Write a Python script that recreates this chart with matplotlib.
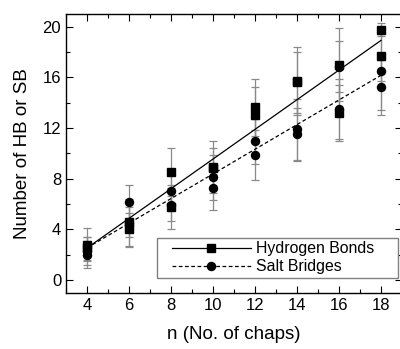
import numpy as np
import matplotlib
matplotlib.use("Agg")
import matplotlib.pyplot as plt
from matplotlib.ticker import MultipleLocator
from matplotlib.legend_handler import HandlerLine2D

plt.rcParams['font.family'] = ['Liberation Sans', 'DejaVu Sans']

# Data: two replicate measurements per n
n_vals = [4, 6, 8, 10, 12, 14, 16, 18]
hb_a = [2.8, 4.6, 8.5, 8.9, 13.65, 15.7, 17.0, 19.77]
hb_b = [2.5, 4.0, 5.75, 8.85, 13.0, 15.6, 13.2, 17.72]
hb_a_err = [1.3, 1.2, 1.9, 2.05, 2.25, 2.7, 2.9, 0.5]
hb_b_err = [0.9, 1.3, 1.75, 1.6, 2.2, 2.4, 2.2, 2.0]
sb_a = [2.3, 6.17, 7.0, 8.1, 10.95, 11.9, 16.85, 16.5]
sb_b = [2.0, 4.5, 5.95, 7.3, 9.87, 11.5, 13.5, 15.2]
sb_a_err = [1.1, 1.3, 1.5, 1.8, 1.8, 2.4, 2.0, 3.1]
sb_b_err = [1.05, 1.9, 1.3, 1.8, 1.95, 2.1, 2.4, 2.15]

x_ticks = [4, 6, 8, 10, 12, 14, 16, 18]
y_ticks = [0, 4, 8, 12, 16, 20]

fig = plt.figure(figsize=(4.0, 3.49), dpi=100)
ax = fig.add_axes([66/400, 1-292.7/349, 336/400, (292.7-14)/349])

x = np.array(n_vals, dtype=float)
ecol = '#8a8a8a'
for ys, es in [(hb_a, hb_a_err), (hb_b, hb_b_err), (sb_a, sb_a_err), (sb_b, sb_b_err)]:
    ax.errorbar(x, ys, yerr=es, fmt='none', ecolor=ecol, elinewidth=0.9,
                capsize=3, capthick=0.9, zorder=2)

# linear fits
xx = np.concatenate([x, x])
hb_all = np.concatenate([hb_a, hb_b])
sb_all = np.concatenate([sb_a, sb_b])
p_hb = np.polyfit(xx, hb_all, 1)
p_sb = np.polyfit(xx, sb_all, 1)
xl = np.array([x.min(), x.max()])
ax.plot(xl, np.polyval(p_hb, xl), '-', color='black', lw=0.9, zorder=3)
ax.plot(xl, np.polyval(p_sb, xl), '--', color='black', lw=0.9, dashes=(3, 2), zorder=3)

ms_sq, ms_ci = 5.3, 5.8
ax.plot(x, hb_a, 's', color='black', ms=ms_sq, zorder=4)
ax.plot(x, hb_b, 's', color='black', ms=ms_sq, zorder=4)
ax.plot(x, sb_a, 'o', color='black', ms=ms_ci, zorder=4)
ax.plot(x, sb_b, 'o', color='black', ms=ms_ci, zorder=4)

# legend proxies
h1, = ax.plot([], [], '-s', color='black', lw=0.9, ms=ms_sq)
h2, = ax.plot([], [], '--o', color='black', lw=0.9, ms=ms_ci, dashes=(3, 2))
xpad = 0.7
leg = ax.legend([h1, h2], ['Hydrogen Bonds', 'Salt Bridges'], loc='lower left',
                bbox_to_anchor=(0.271, 0.053, 0.717, 0.15), mode='expand',
                borderaxespad=0, fontsize=11.4,
                handlelength=5.0 + xpad, fancybox=False, framealpha=1, edgecolor='#808080',
                labelspacing=0.2, borderpad=0.22, handletextpad=0.3,
                handler_map={h1: HandlerLine2D(xpad=xpad), h2: HandlerLine2D(xpad=xpad)})
leg.get_frame().set_linewidth(1.0)

ax.set_xlim(3, 19)
ax.set_ylim(-1, 21)
ax.set_xticks(x_ticks)
ax.set_yticks(y_ticks)
ax.xaxis.set_minor_locator(MultipleLocator(1))
ax.yaxis.set_minor_locator(MultipleLocator(2))
ax.tick_params(which='both', direction='in', top=True, right=True, labelsize=12)
ax.tick_params(which='major', length=5, width=0.8)
ax.tick_params(which='minor', length=3, width=0.8)
for s in ax.spines.values():
    s.set_linewidth(1.0)

ax.set_xlabel('n (No. of chaps)', fontsize=13.5, labelpad=10)
ax.set_ylabel('Number of HB or SB', fontsize=13.5, labelpad=8)

fig.savefig('out.png', dpi=100)
